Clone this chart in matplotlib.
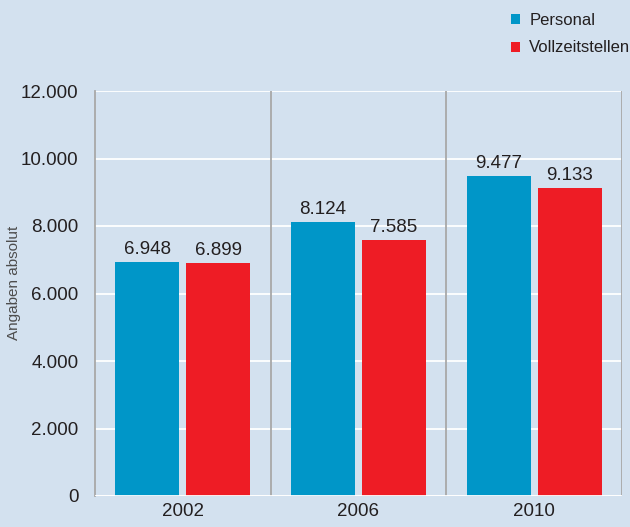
import matplotlib
matplotlib.use("Agg")
import matplotlib.pyplot as plt
import numpy as np

years = ["2002", "2006", "2010"]
personal = [6948, 8124, 9477]
vollzeit = [6899, 7585, 9133]
series_names = ["Personal", "Vollzeitstellen"]
yticks = [0, 2000, 4000, 6000, 8000, 10000, 12000]

def fmt(v):
    return f"{v:,}".replace(",", ".")

plt.rcParams["font.family"] = ["Liberation Sans", "DejaVu Sans"]

bg = "#d3e1ef"
blue = "#0096c8"
red = "#ee1c25"
txt = "#231f20"

fig = plt.figure(figsize=(6.3, 5.27), dpi=100, facecolor=bg)
ax = fig.add_axes([95/630, 1-496/527, (622-95)/630, (496-91)/527], facecolor=bg)

x = np.arange(len(years))
w = 0.365
off = 0.202
b1 = ax.bar(x - off, personal, w, color=blue, zorder=3, label=series_names[0])
b2 = ax.bar(x + off, vollzeit, w, color=red, zorder=3, label=series_names[1])

for rects, vals in ((b1, personal), (b2, vollzeit)):
    for r, v in zip(rects, vals):
        ax.text(r.get_x() + r.get_width()/2, v + 110, fmt(v), ha="center", va="bottom",
                fontsize=13.5, color=txt, zorder=4)

ax.set_xlim(-0.5, 2.5)
ax.set_ylim(0, 12000)
ax.set_yticks(yticks)
ax.set_yticklabels([fmt(t) for t in yticks], fontsize=13.5, color=txt)
ax.set_xticks(x)
ax.set_xticklabels(years, fontsize=13.5, color=txt)
ax.tick_params(length=0, pad=12)
ax.tick_params(axis="x", pad=5)
ax.yaxis.grid(True, color="white", linewidth=1.3, zorder=1)
ax.set_axisbelow(True)
for s in ["top", "right", "bottom"]:
    ax.spines[s].set_visible(False)
ax.spines["left"].set_color("#a8a8a8")
ax.spines["left"].set_linewidth(1.3)
for xv in [0.5, 1.5, 2.5]:
    ax.axvline(xv, color="#a8a8a8", linewidth=1.3, zorder=2)
ax.axhline(0, color="white", linewidth=2, zorder=4)

fig.text(14/630, 1-283/527, "Angaben absolut", rotation=90, ha="center", va="center",
         fontsize=11, color="#4d4d4d")

leg = fig.legend(handles=[b1, b2], labels=series_names, loc="upper left",
                 bbox_to_anchor=(511/630, 1-13/527), frameon=False, fontsize=12,
                 handlelength=0.55, handleheight=0.55, handletextpad=0.55, labelspacing=0.75,
                 borderaxespad=0, borderpad=0)
for t in leg.get_texts():
    t.set_color(txt)

fig.savefig("out.png", dpi=100, facecolor=bg)
